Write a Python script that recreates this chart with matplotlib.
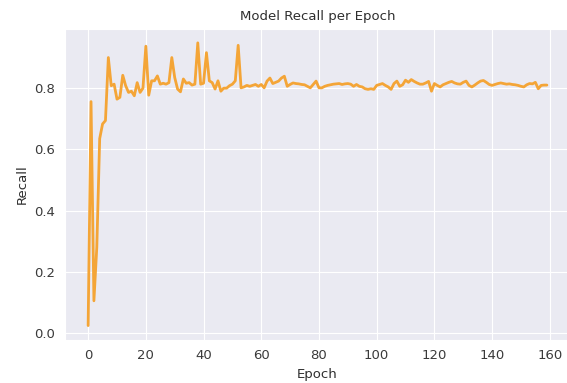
import matplotlib
matplotlib.use('Agg')
import matplotlib.pyplot as plt
import seaborn as sns

sns.set_style('darkgrid')
plt.rcParams['font.family'] = ['DejaVu Sans']

# Recall per epoch
recall = [
    0.024, 0.756, 0.105, 0.280, 0.635, 0.683, 0.694, 0.900, 0.808, 0.813,
    0.764, 0.770, 0.842, 0.808, 0.786, 0.790, 0.775, 0.818, 0.786, 0.800,
    0.937, 0.777, 0.824, 0.824, 0.840, 0.813, 0.816, 0.813, 0.818, 0.900,
    0.835, 0.797, 0.788, 0.830, 0.816, 0.818, 0.810, 0.813, 0.948, 0.813,
    0.816, 0.916, 0.824, 0.818, 0.797, 0.824, 0.790, 0.800, 0.800, 0.808,
    0.813, 0.824, 0.940, 0.801, 0.804, 0.809, 0.806, 0.809, 0.812, 0.806,
    0.812, 0.801, 0.823, 0.833, 0.815, 0.819, 0.823, 0.833, 0.839, 0.806,
    0.812, 0.817, 0.815, 0.814, 0.812, 0.811, 0.806, 0.801, 0.812, 0.823,
    0.801, 0.801, 0.806, 0.809, 0.811, 0.813, 0.814, 0.815, 0.812, 0.814,
    0.815, 0.813, 0.806, 0.812, 0.806, 0.804, 0.798, 0.796, 0.798, 0.796,
    0.809, 0.812, 0.815, 0.809, 0.804, 0.796, 0.815, 0.823, 0.806, 0.811,
    0.826, 0.819, 0.828, 0.822, 0.817, 0.813, 0.813, 0.817, 0.822, 0.790,
    0.815, 0.809, 0.804, 0.811, 0.815, 0.819, 0.822, 0.817, 0.814, 0.813,
    0.819, 0.823, 0.809, 0.804, 0.810, 0.817, 0.823, 0.825, 0.819, 0.812,
    0.809, 0.812, 0.815, 0.817, 0.815, 0.813, 0.814, 0.812, 0.811, 0.809,
    0.806, 0.804, 0.811, 0.815, 0.814, 0.819, 0.798, 0.809, 0.810, 0.810,
]
epochs = list(range(len(recall)))

fig = plt.figure(figsize=(5.67, 3.83), dpi=100)
ax = fig.add_axes([0.115, 0.113, 0.89, 0.812])
ax.plot(epochs, recall, color='#f4a537', linewidth=2.0)
ax.set_xticks(range(0, 161, 20))
ax.set_yticks([0.0, 0.2, 0.4, 0.6, 0.8])
ax.tick_params(labelsize=9.5, colors='#3a3a3a')
ax.set_title('Model Recall per Epoch', fontsize=9.5, color='#2e2e2e')
ax.set_xlabel('Epoch', fontsize=9.5, color='#2e2e2e')
ax.set_ylabel('Recall', fontsize=9.5, color='#2e2e2e')

fig.savefig('out.png', dpi=100)
